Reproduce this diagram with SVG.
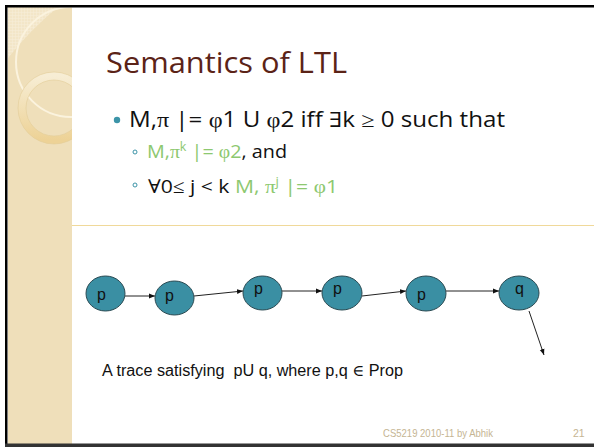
<svg xmlns="http://www.w3.org/2000/svg" width="594" height="447" viewBox="0 0 594 447">
<style>
.node{fill:#3A8FA3;stroke:#2B4A52;stroke-width:1}
.nl{font-family:"Liberation Sans",Arial,sans-serif;font-size:16px;fill:#111}
.edge{stroke:#222;stroke-width:1;fill:none;marker-end:url(#ah)}
.gs{font-family:"Open Sans",Lato,sans-serif;font-variant-ligatures:none}
.sym{font-family:"Liberation Serif","DejaVu Serif",serif}
.g{fill:#8DC870}
</style>
<defs>
<marker id="ah" viewBox="0 0 10 10" refX="10" refY="5" markerWidth="6" markerHeight="6" orient="auto" markerUnits="userSpaceOnUse">
<path d="M0,1 L10,5 L0,9 z" fill="#111"/>
</marker>
<clipPath id="sb"><rect x="8" y="7" width="64" height="437"/></clipPath>
<linearGradient id="ringg" x1="0" y1="0" x2="0" y2="1">
<stop offset="0" stop-color="#F7EDD4"/>
<stop offset="1" stop-color="#EDD296"/>
</linearGradient>
<pattern id="hatch" width="3" height="3" patternUnits="userSpaceOnUse">
<rect width="3" height="3" fill="#F3E6C8"/>
<path d="M0,0 H3 M0,0 V3" stroke="#F8EEDA" stroke-width="1"/>
</pattern>
</defs>
<rect width="594" height="447" fill="#fff"/>
<g id="sidebar">
<rect x="8" y="7" width="64" height="437" fill="#EFDFBA"/>
<g clip-path="url(#sb)">
<path d="M8,7 H58 Q30,30 8,58 Z" fill="url(#hatch)"/>
<circle cx="71" cy="62" r="55" fill="none" stroke="#FBF3DE" stroke-width="2"/>
<circle cx="54" cy="108" r="32" fill="none" stroke="url(#ringg)" stroke-width="8"/>
<circle cx="54" cy="108" r="36" fill="none" stroke="#E2CC98" stroke-width="0.6"/>
<circle cx="54" cy="108" r="28" fill="none" stroke="#E2CC98" stroke-width="0.6"/>
</g>
</g>
<g id="frame">
<rect x="5" y="5" width="589" height="2.5" fill="#000"/>
<rect x="5" y="5" width="2.5" height="442" fill="#000"/>
<rect x="5" y="443.5" width="589" height="3.5" fill="#333"/>
</g>
<line x1="72" y1="225.5" x2="594" y2="225.5" stroke="#F0D99A" stroke-width="1"/>
<text id="title" class="gs" x="106" y="73" font-size="29" fill="#5B2317" textLength="241" lengthAdjust="spacingAndGlyphs">Semantics of LTL</text>
<g id="bullets">
<circle cx="117" cy="120" r="3.2" fill="#3C94A8"/>
<text class="gs" x="129" y="127" font-size="21" fill="#111" textLength="376" lengthAdjust="spacingAndGlyphs">M,<tspan class="sym">π</tspan> |= <tspan class="sym">φ</tspan>1 U <tspan class="sym">φ</tspan>2 iff <tspan class="sym">∃</tspan>k <tspan class="sym">≥</tspan> 0 such that</text>
<circle cx="135" cy="152" r="2" fill="none" stroke="#3C94A8" stroke-width="1"/>
<text class="gs" x="147" y="158" font-size="19" fill="#111" textLength="140" lengthAdjust="spacingAndGlyphs"><tspan class="g">M,<tspan class="sym">π</tspan><tspan font-size="12" dy="-7">k</tspan><tspan dy="7"> |= </tspan><tspan class="sym">φ</tspan>2</tspan>, and</text>
<circle cx="135" cy="185" r="2" fill="none" stroke="#3C94A8" stroke-width="1"/>
<text class="gs" x="148" y="193" font-size="19" fill="#111" textLength="190" lengthAdjust="spacingAndGlyphs"><tspan class="sym">∀</tspan>0<tspan class="sym">≤</tspan> j &lt; k <tspan class="g">M, <tspan class="sym">π</tspan><tspan font-size="12" dy="-7">j</tspan><tspan dy="7"> |= </tspan><tspan class="sym">φ</tspan>1</tspan></text>
</g>
<g id="connectors">
<line class="edge" x1="125" y1="296" x2="155" y2="296"/>
<line class="edge" x1="194" y1="296" x2="243" y2="291"/>
<line class="edge" x1="282" y1="291" x2="322" y2="291"/>
<line class="edge" x1="362" y1="296" x2="406" y2="291"/>
<line class="edge" x1="446" y1="291" x2="499" y2="291"/>
<line class="edge" x1="529" y1="311" x2="544" y2="355"/>
</g>
<g id="n1"><ellipse class="node" cx="105.5" cy="293.5" rx="19.5" ry="17.5"/><text class="nl" x="97" y="300">p</text></g>
<g id="n2"><ellipse class="node" cx="174.5" cy="298" rx="19.5" ry="17"/><text class="nl" x="165" y="301">p</text></g>
<g id="n3"><ellipse class="node" cx="262.5" cy="293" rx="19.5" ry="17"/><text class="nl" x="254" y="294">p</text></g>
<g id="n4"><ellipse class="node" cx="342" cy="293" rx="20" ry="17"/><text class="nl" x="333" y="294">p</text></g>
<g id="n5"><ellipse class="node" cx="426" cy="293.5" rx="20" ry="17.5"/><text class="nl" x="417" y="300">p</text></g>
<g id="n6"><ellipse class="node" cx="519" cy="293" rx="20" ry="17"/><text class="nl" x="515" y="294">q</text></g>
<text id="caption" x="102" y="376" font-family="Liberation Sans,Arial,sans-serif" font-size="16" fill="#111" xml:space="preserve" textLength="301" lengthAdjust="spacingAndGlyphs">A trace satisfying  pU q, where p,q <tspan class="sym">∈</tspan> Prop</text>
<g id="footer" font-family="Liberation Sans,Arial,sans-serif" font-size="10.5" fill="#C5B593">
<text x="383" y="437" textLength="110" lengthAdjust="spacingAndGlyphs">CS5219 2010-11 by Abhik</text>
<text x="573" y="437">21</text>
</g>
</svg>
